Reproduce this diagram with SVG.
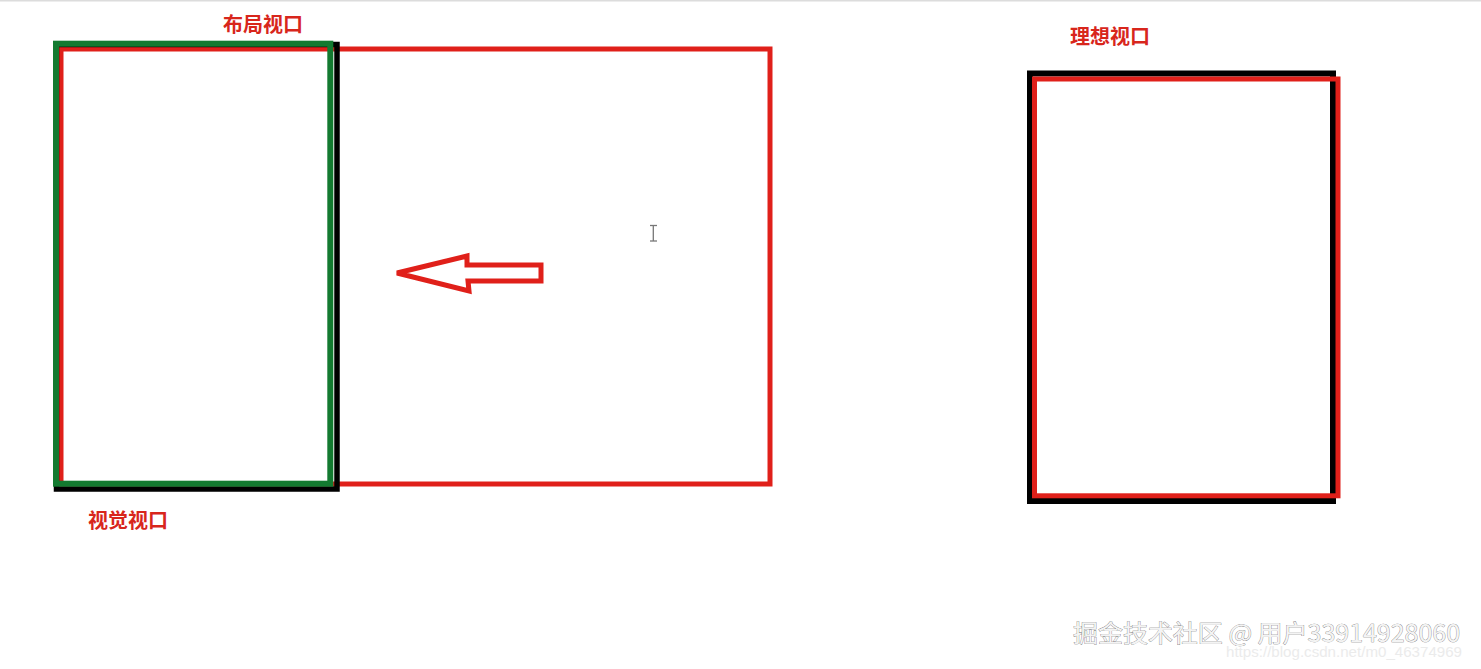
<svg xmlns="http://www.w3.org/2000/svg" width="1481" height="669" viewBox="0 0 1481 669">
  <style>
    .red { fill: none; stroke: #e0201a; stroke-width: 5; }
    .blk { fill: none; stroke: #000000; stroke-width: 5.5; }
    .grn { fill: none; stroke: #137a30; stroke-width: 6; }
    .lbl { font-family: "Noto Sans CJK SC", "Noto Sans", sans-serif; font-weight: bold; font-size: 20px; fill: #d8261c; }
    .wm { font-family: "Noto Sans CJK SC", "Noto Sans", sans-serif; font-size: 24px; fill: #f4f4f4; stroke: #6a6a6a; stroke-width: 0.6; paint-order: stroke; }
    .wm2 { font-family: "Liberation Sans", "Noto Sans", sans-serif; font-size: 15px; fill: #ebebeb; }
  </style>
  <rect width="1481" height="669" fill="#ffffff"/>
  <line x1="0" y1="0.75" x2="1481" y2="0.75" stroke="#dcdcdc" stroke-width="1.5"/>

  <g id="layout-viewport">
    <rect class="red" x="61" y="49" width="709" height="435"/>
    <text class="lbl" x="223" y="32">布局视口</text>
  </g>

  <g id="ideal-frame">
    <rect class="blk" x="56.5" y="44.5" width="280.5" height="444.5"/>
  </g>

  <g id="visual-viewport">
    <rect class="grn" x="56" y="43.7" width="274.3" height="440"/>
    <text class="lbl" x="88" y="528">视觉视口</text>
  </g>

  <g id="ideal-viewport">
    <rect class="blk" x="1030" y="73.5" width="303" height="427.5" style="stroke-width:6"/>
    <rect class="red" x="1034.5" y="79" width="303.5" height="416.8"/>
    <text class="lbl" x="1070" y="44">理想视口</text>
  </g>

  <g id="connectors">
    <path class="red" stroke-linejoin="miter" d="M397,273 L467,256 L467,265 L541,265 L541,281 L468,281 L469,291 Z"/>
  </g>

  <g id="cursor" stroke="#777777" stroke-width="1.3" fill="none">
    <line x1="653.3" y1="225.5" x2="653.3" y2="241"/>
    <line x1="650" y1="225.5" x2="657" y2="225.5"/>
    <line x1="650" y1="241" x2="657" y2="241"/>
  </g>

  <g id="watermark">
    <text class="wm" x="1073" y="642" textLength="387" lengthAdjust="spacingAndGlyphs">掘金技术社区 @ 用户33914928060</text>
    <text class="wm2" x="1226" y="657" textLength="236" lengthAdjust="spacingAndGlyphs">https://blog.csdn.net/m0_46374969</text>
  </g>
</svg>
